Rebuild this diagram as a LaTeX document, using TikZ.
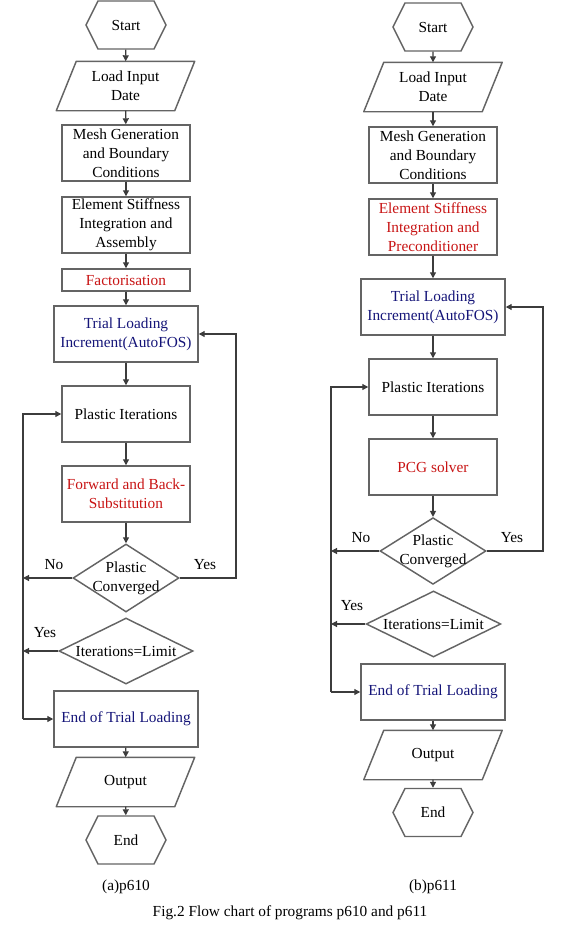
\documentclass[tikz,border=0pt]{standalone}
\usepackage{fontspec}
\setmainfont{Liberation Serif}
\usetikzlibrary{shapes.geometric,shapes.symbols,arrows.meta}
\definecolor{boxline}{RGB}{100,100,100}
\definecolor{flowline}{RGB}{60,60,60}
\definecolor{solvered}{RGB}{200,20,20}
\definecolor{loadblue}{RGB}{20,20,120}
\tikzset{base node/.style={draw=boxline,line width=1.1pt,align=center,inner sep=1pt,font=\rmfamily\fontsize{11.5pt}{14.25pt}\selectfont},
  proc node/.style={base node,rectangle,minimum width=96pt,minimum height=42pt},
  wide node/.style={proc node,minimum width=108pt},
  term node/.style={base node,signal,signal to=east and west,signal pointer angle=127,minimum width=60pt,minimum height=36pt},
  io node/.style={base node,rectangle,draw=none,minimum width=87.75pt,minimum height=36pt},
  io line/.style={draw=boxline,line width=1.1pt,line join=round},
  test node/.style={base node,diamond,inner xsep=-14pt,inner ysep=-9pt},
  flow/.style={draw=flowline,line width=0.9pt,-{Triangle[length=4.5pt,width=4.5pt]}},
  tag/.style={font=\rmfamily\fontsize{11.5pt}{13pt}\selectfont,inner sep=0pt},
}
% slanted frame round an input/output node
\newcommand{\ioframe}[1]{\draw[io line] ([xshift=-7.5pt]#1.south west) -- ([xshift=-7.5pt]#1.south east) -- ([xshift=7.5pt]#1.north east) -- ([xshift=7.5pt]#1.north west) -- cycle;}

\begin{document}
\begin{tikzpicture}[x=0.75pt,y=-0.75pt]
				\useasboundingbox (0,0) rectangle (568,928);
				
				% (a) p610
				\node[term node] (startA) at (126,25) {Start};
				\node[io node] (loadA) at (125.5,86) {Load Input\\Date};
				\node[proc node] (meshA) at (126,153) {Mesh Generation\\and Boundary\\Conditions};
				\node[proc node] (elemA) at (126,225) {Element Stiffness\\Integration and\\Assembly};
				\node[proc node,minimum height=16.5pt,text=solvered] (factA) at (126,280) {Factorisation};
				\node[wide node,text=loadblue] (trialA) at (126,334) {Trial Loading\\Increment(AutoFOS)};
				\node[proc node] (plastA) at (126,414) {Plastic Iterations};
				\node[proc node,text=solvered] (solveA) at (126,494) {Forward and Back-\\Substitution};
				\node[test node,minimum width=79.5pt,minimum height=51pt] (convA) at (126,578) {Plastic\\Converged};
				\node[test node,minimum width=100.5pt,minimum height=49.5pt] (limA) at (126,651) {Iterations=Limit};
				\node[wide node,text=loadblue] (endtrialA) at (126,719) {End of Trial Loading};
				\node[io node] (outA) at (125.5,782) {Output};
				\node[term node] (endA) at (126,840) {End};
				\ioframe{loadA}
				\ioframe{outA}
				\coordinate (loopA) at (23,0);
				\coordinate (backA) at (236,0);
				
				\draw[flow] (startA) -- (loadA);
				\draw[flow] (loadA) -- (meshA);
				\draw[flow] (meshA) -- (elemA);
				\draw[flow] (elemA) -- (factA);
				\draw[flow] (factA) -- (trialA);
				\draw[flow] (trialA) -- (plastA);
				\draw[flow] (plastA) -- (solveA);
				\draw[flow] (solveA) -- (convA);
				\draw[flow] (convA.west) -- (convA.west -| loopA);
				\draw[flow] (convA.east) -- (convA.east -| backA) |- (trialA.east);
				\draw[flow] (limA.west) -- (limA.west -| loopA);
				\draw[flow] (endtrialA.west -| loopA) |- (plastA.west);
				\draw[flow] (endtrialA.west -| loopA) -- (endtrialA.west);
				\draw[flow] (endtrialA) -- (outA);
				\draw[flow] (outA) -- (endA);
				\node[tag] (noA) at (54,565) {No};
				\node[tag] (yesA) at (205,565) {Yes};
				\node[tag] (yeslimA) at (45,633) {Yes};
				\node[tag] (capA) at (126,887) {(a)p610};
				
				% (b) p611
				\node[term node] (startB) at (433,27) {Start};
				\node[io node] (loadB) at (433,87) {Load Input\\Date};
				\node[proc node] (meshB) at (433,155) {Mesh Generation\\and Boundary\\Conditions};
				\node[proc node,text=solvered] (elemB) at (433,227) {Element Stiffness\\Integration and\\Preconditioner};
				\node[wide node,text=loadblue] (trialB) at (433,307) {Trial Loading\\Increment(AutoFOS)};
				\node[proc node] (plastB) at (433,387) {Plastic Iterations};
				\node[proc node,text=solvered] (solveB) at (433,467) {PCG solver};
				\node[test node,minimum width=79.5pt,minimum height=50pt] (convB) at (433,551) {Plastic\\Converged};
				\node[test node,minimum width=101pt,minimum height=49.5pt] (limB) at (433.5,624) {Iterations=Limit};
				\node[wide node,text=loadblue] (endtrialB) at (433,692) {End of Trial Loading};
				\node[io node] (outB) at (433,755) {Output};
				\node[term node] (endB) at (433,812.5) {End};
				\ioframe{loadB}
				\ioframe{outB}
				\coordinate (loopB) at (331,0);
				\coordinate (backB) at (543,0);
				
				\draw[flow] (startB) -- (loadB);
				\draw[flow] (loadB) -- (meshB);
				\draw[flow] (meshB) -- (elemB);
				\draw[flow] (elemB) -- (trialB);
				\draw[flow] (trialB) -- (plastB);
				\draw[flow] (plastB) -- (solveB);
				\draw[flow] (solveB) -- (convB);
				\draw[flow] (convB.west) -- (convB.west -| loopB);
				\draw[flow] (convB.east) -- (convB.east -| backB) |- (trialB.east);
				\draw[flow] (limB.west) -- (limB.west -| loopB);
				\draw[flow] (endtrialB.west -| loopB) |- (plastB.west);
				\draw[flow] (endtrialB.west -| loopB) -- (endtrialB.west);
				\draw[flow] (endtrialB) -- (outB);
				\draw[flow] (outB) -- (endB);
				\node[tag] (noB) at (361,538) {No};
				\node[tag] (yesB) at (512,538) {Yes};
				\node[tag] (yeslimB) at (352,606) {Yes};
				\node[tag] (capB) at (433,887) {(b)p611};
				
				\node[tag] (figcap) at (290,913) {Fig.2 Flow chart of programs p610 and p611};
			\end{tikzpicture}
\end{document}
